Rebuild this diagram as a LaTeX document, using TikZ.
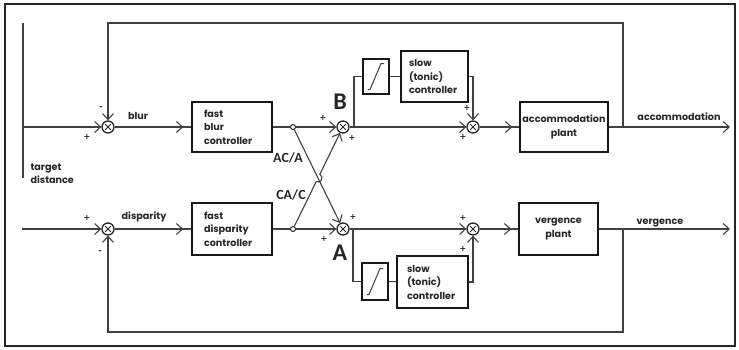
\documentclass[tikz,border=0pt]{standalone}
\usepackage{fontspec}
\setmainfont{Poppins}
\newfontfamily\calib{Carlito}
\newfontfamily\signfont{DejaVu Sans}
\usetikzlibrary{arrows.meta,decorations.markings,calc}
\begin{document}
\begin{tikzpicture}[x=1pt,y=-1pt,
  line width=1.1pt, draw=black!75,
  >={Straight Barb[length=6pt,width=11pt,line width=1.1pt]},
  every node/.style={text=black!85},
  blk/.style={draw=black!90, line width=1.6pt, rectangle, inner ysep=0pt},
  sumj/.style={circle, draw=black!85, line width=1.3pt, minimum size=12pt, inner sep=0pt,
    path picture={\draw[line width=0.8pt] (path picture bounding box.center) +(-2.8,-2.8) -- +(2.8,2.8)
      (path picture bounding box.center) +(-2.8,2.8) -- +(2.8,-2.8);}},
  dotj/.style={circle, draw=black!85, line width=1pt, fill=white, minimum size=5pt, inner sep=0pt},
  pm/.style={font=\signfont\fontsize{8}{8}\selectfont\bfseries, inner sep=0pt},
  lbl/.style={font=\fontsize{9.6}{13.5}\selectfont\bfseries, inner sep=0pt},
  big/.style={font=\calib\bfseries\fontsize{24}{24}\selectfont, inner sep=0pt},
  ratio/.style={font=\calib\bfseries\fontsize{14}{14}\selectfont, inner sep=0pt},
  midarr/.style={postaction={decorate}, decoration={markings, mark=at position #1 with {\arrow{>}}}}
]
\useasboundingbox (0,0) rectangle (739,349);
\draw[draw=black!85, line width=1.4pt] (5,4) rectangle (735,346);

% coordinates
\coordinate (tdT) at (23,23);
\coordinate (tdB) at (23,178);
\coordinate (in1) at (23,127);
\coordinate (in2) at (22,229);
\coordinate (f1) at (623,127);
\coordinate (ft1) at (623,23);
\coordinate (f2) at (623,229);
\coordinate (fb2c) at (623,332);
\coordinate (o1) at (730,127);
\coordinate (o2) at (730,229);
\coordinate (br1) at (354,127);
\coordinate (br2) at (353,229);

% nodes
\node[sumj] (s1) at (108,127) {};
\node[sumj] (s2) at (108,229) {};
\node[blk, lbl, minimum width=80pt, minimum height=50pt, text width=56pt, inner xsep=12pt, align=left] (fb1) at (232,127) {fast\\blur\\controller};
\node[blk, lbl, minimum width=80pt, minimum height=52pt, text width=56pt, inner xsep=12pt, align=left] (fb2) at (232,229) {fast\\disparity\\controller};
\node[dotj] (d1) at (293,127) {};
\node[dotj] (d2) at (293,229) {};
\node[sumj] (sB) at (343,127) {};
\node[sumj] (sA) at (343,229) {};
\node[blk, minimum width=26pt, minimum height=35pt] (sat1) at (376,76.5) {};
\node[blk, lbl, minimum width=67pt, minimum height=51pt, text width=51pt, inner xsep=8pt, align=left] (slow1) at (434.5,76.5) {slow\\(tonic)\\controller};
\node[blk, minimum width=26pt, minimum height=37pt] (sat2) at (375,281.5) {};
\node[blk, lbl, minimum width=67pt, minimum height=52pt, text width=51pt, inner xsep=10pt, align=left] (slow2) at (432.5,282) {slow\\(tonic)\\controller};
\node[sumj] (sR1) at (473,127) {};
\node[sumj] (sR2) at (473,229) {};
\node[blk, lbl, minimum width=88pt, minimum height=50pt, inner xsep=0pt, align=center] (acc) at (564,127) {accommodation\\plant};
\node[blk, lbl, minimum width=79pt, minimum height=52pt, align=center] (verg) at (558.5,229) {vergence\\plant};

% saturation symbols
\draw[line width=1pt] ($(sat1)+(-8,13)$) -- ($(sat1)+(-6,13)$) -- ($(sat1)+(5,-13)$) -- ($(sat1)+(8,-13)$);
\draw[line width=1pt] ($(sat2)+(-8,13)$) -- ($(sat2)+(-6,13)$) -- ($(sat2)+(5,-13)$) -- ($(sat2)+(8,-13)$);

% connectors
\draw (tdT) -- (tdB);
\draw[->] (in1) -- (s1);
\draw[->] (in2) -- (s2);
\draw[->] (f1) -- (ft1) -| (s1);
\draw[->] (f2) -- (fb2c) -| (s2);
\draw[midarr=-8pt] (s1) -- (fb1);
\draw[midarr=-8pt] (s2) -- (fb2);
\draw (fb1) -- (d1);
\draw (fb2) -- (d2);
\draw[->] (d1) -- (sB);
\draw[->] (d2) -- (sA);
\draw[->] (d1) -- (sA);
\coordinate (X) at ($(d1)!0.5!(sA)$);
\coordinate (hop1) at ($(X)!4pt!(d2)$);
\coordinate (hop2) at ($(X)!4pt!(sB)$);
\draw[->] (d2) -- (hop1) .. controls ($(hop1)!5.3pt!-90:(hop2)$) and ($(hop2)!5.3pt!90:(hop1)$) .. (hop2) -- (sB);
\draw (br1) |- (sat1);
\draw (sat1) -- (slow1);
\draw[->] (slow1) -| (sR1);
\draw[->] (sB) -- (sR1);
\draw[midarr=-7pt] (sR1) -- (acc);
\draw[->] (acc) -- (o1);
\draw (br2) |- (sat2);
\draw (sat2) -- (slow2);
\draw[->] (slow2) -| (sR2);
\draw[->] (sA) -- (sR2);
\draw[midarr=-7pt] (sR2) -- (verg);
\draw[->] (verg) -- (o2);

% signs
\node[pm] (p1) at (101,108) {-};
\node[pm] (p2) at (87,137) {+};
\node[pm] (p3) at (87,218) {+};
\node[pm] (p4) at (100,252) {-};
\node[pm] (p5) at (323,118) {+};
\node[pm] (p6) at (352,138) {+};
\node[pm] (p7) at (353,217) {+};
\node[pm] (p8) at (324,239) {+};
\node[pm] (p9) at (467,108) {+};
\node[pm] (p10) at (463,137) {+};
\node[pm] (p11) at (463,218) {+};
\node[pm] (p12) at (463,249) {+};

% labels
\node[lbl] (lblur) at (138,116) {blur};
\node[lbl] (ldisp) at (144,217) {disparity};
\node[lbl, anchor=north west, align=left] (ltd) at (30,163) {target\\distance};
\node[ratio] (lacA) at (288,158) {AC/A};
\node[ratio] (lcaC) at (291,195) {CA/C};
\node[big] (lB) at (340,102) {B};
\node[big] (lA) at (340,253) {A};
\node[lbl] (lacc) at (679,117) {accommodation};
\node[lbl] (lverg) at (660,223) {vergence};
\end{tikzpicture}
\end{document}
